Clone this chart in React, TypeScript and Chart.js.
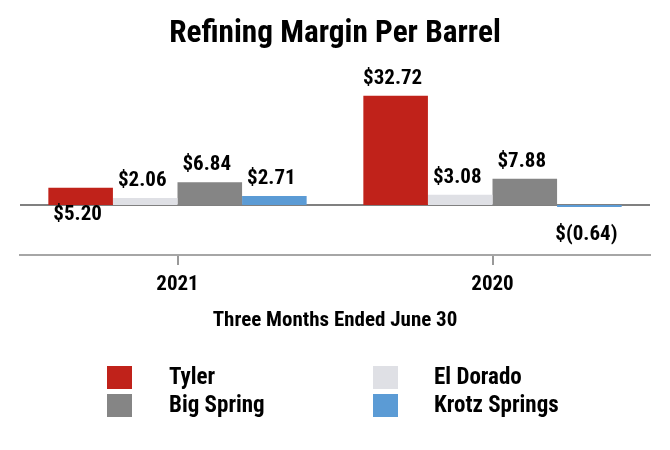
import React, { useEffect, useRef } from "react";
import { Chart, registerables } from "chart.js";

Chart.register(...registerables);

const categories = ["2021", "2020"];
const seriesNames = ["Tyler", "El Dorado", "Big Spring", "Krotz Springs"];
const tyler = [5.2, 32.72];
const elDorado = [2.06, 3.08];
const bigSpring = [6.84, 7.88];
const krotzSprings = [2.71, -0.64];
const seriesColors = ["#C0221A", "#DFE0E5", "#858585", "#5B9BD5"];
const titleText = "Refining Margin Per Barrel";
const axisTitleText = "Three Months Ended June 30";
// [datasetIndex, categoryIndex] of positive values whose label sits below the zero line
const belowLabels: number[][] = [[0, 0]];
// legend layout: columns of dataset indexes
const legendColumns = [
  [0, 2],
  [1, 3],
];

const FONT = "'Roboto Condensed', 'Liberation Sans', Arial, sans-serif";

function fmt(v: number): string {
  return v < 0 ? `$(${Math.abs(v).toFixed(2)})` : `$${v.toFixed(2)}`;
}

const zeroLine = {
  id: "zeroLine",
  beforeDatasetsDraw(chart: any) {
    const { ctx, chartArea } = chart;
    const y0 = chart.scales.y.getPixelForValue(0);
    ctx.save();
    ctx.strokeStyle = "#808080";
    ctx.lineWidth = 2;
    ctx.beginPath();
    ctx.moveTo(chartArea.left, y0);
    ctx.lineTo(chartArea.right, y0);
    ctx.stroke();
    ctx.restore();
  },
};

const valueLabels = {
  id: "valueLabels",
  afterDatasetsDraw(chart: any) {
    const ctx = chart.ctx;
    const y0 = chart.scales.y.getPixelForValue(0);
    ctx.save();
    ctx.font = `bold 21px ${FONT}`;
    ctx.fillStyle = "#000";
    ctx.textAlign = "center";
    ctx.textBaseline = "alphabetic";
    chart.data.datasets.forEach((ds: any, di: number) => {
      const meta = chart.getDatasetMeta(di);
      meta.data.forEach((bar: any, i: number) => {
        const v = ds.data[i] as number;
        let y: number;
        if (v < 0) y = bar.y + 33;
        else if (belowLabels.some(([d, c]) => d === di && c === i)) y = y0 + 15;
        else y = bar.y - 12;
        ctx.fillText(fmt(v), bar.x - 3, y);
      });
    });
    ctx.restore();
  },
};

const customLegend = {
  id: "customLegend",
  afterDraw(chart: any) {
    const ctx = chart.ctx;
    const datasets = chart.data.datasets;
    const colX = [107, 373];
    const textX = [169, 434];
    const rowY = [366, 394];
    const boxW = 25;
    const boxH = 23;
    ctx.save();
    ctx.font = `bold 23px ${FONT}`;
    ctx.textAlign = "left";
    ctx.textBaseline = "middle";
    legendColumns.forEach((col, ci) => {
      col.forEach((di, ri) => {
        const ds = datasets[di];
        ctx.fillStyle = ds.backgroundColor;
        ctx.fillRect(colX[ci], rowY[ri], boxW, boxH);
        ctx.fillStyle = "#000";
        ctx.fillText(ds.label, textX[ci], rowY[ri] + boxH / 2 + 1);
      });
    });
    ctx.restore();
  },
};

export default function App() {
  const ref = useRef<HTMLCanvasElement>(null);

  useEffect(() => {
    if (!ref.current) return;
    const values = [tyler, elDorado, bigSpring, krotzSprings];
    const chart = new Chart(ref.current, {
      type: "bar",
      data: {
        labels: categories,
        datasets: seriesNames.map((name, i) => ({
          label: name,
          data: values[i],
          backgroundColor: seriesColors[i],
          borderWidth: 0,
          barPercentage: 1,
          categoryPercentage: 0.82,
        })),
      },
      options: {
        responsive: false,
        animation: false,
        events: [],
        layout: { padding: { left: 20, right: 20, top: 0, bottom: 0 } },
        plugins: {
          legend: { display: false },
          tooltip: { enabled: false },
          title: {
            display: true,
            text: titleText,
            color: "#000",
            font: { family: FONT, size: 31.3, weight: "bold" },
            padding: { top: 15, bottom: 19 },
          },
        },
        scales: {
          x: {
            grid: {
              display: true,
              drawOnChartArea: false,
              drawTicks: true,
              tickLength: 10,
              offset: false,
              color: "#999999",
              lineWidth: 2,
            },
            border: { display: true, color: "#a6a6a6", width: 2 },
            ticks: {
              color: "#000",
              padding: 7,
              font: { family: FONT, size: 21, weight: "bold" },
            },
            title: {
              display: true,
              text: axisTitleText,
              color: "#000",
              font: { family: FONT, size: 21, weight: "bold" },
              padding: { top: 0, bottom: 117 },
            },
            afterFit: (scale: any) => {
              scale.height = 195;
            },
          },
          y: { display: false, min: -15, max: 40 },
        },
      },
      plugins: [zeroLine, valueLabels, customLegend],
    });
    return () => chart.destroy();
  }, []);

  return (
    <div style={{ position: "absolute", left: 0, top: 0, width: 670, height: 450, background: "#fff" }}>
      <canvas ref={ref} width={670} height={450} />
    </div>
  );
}
